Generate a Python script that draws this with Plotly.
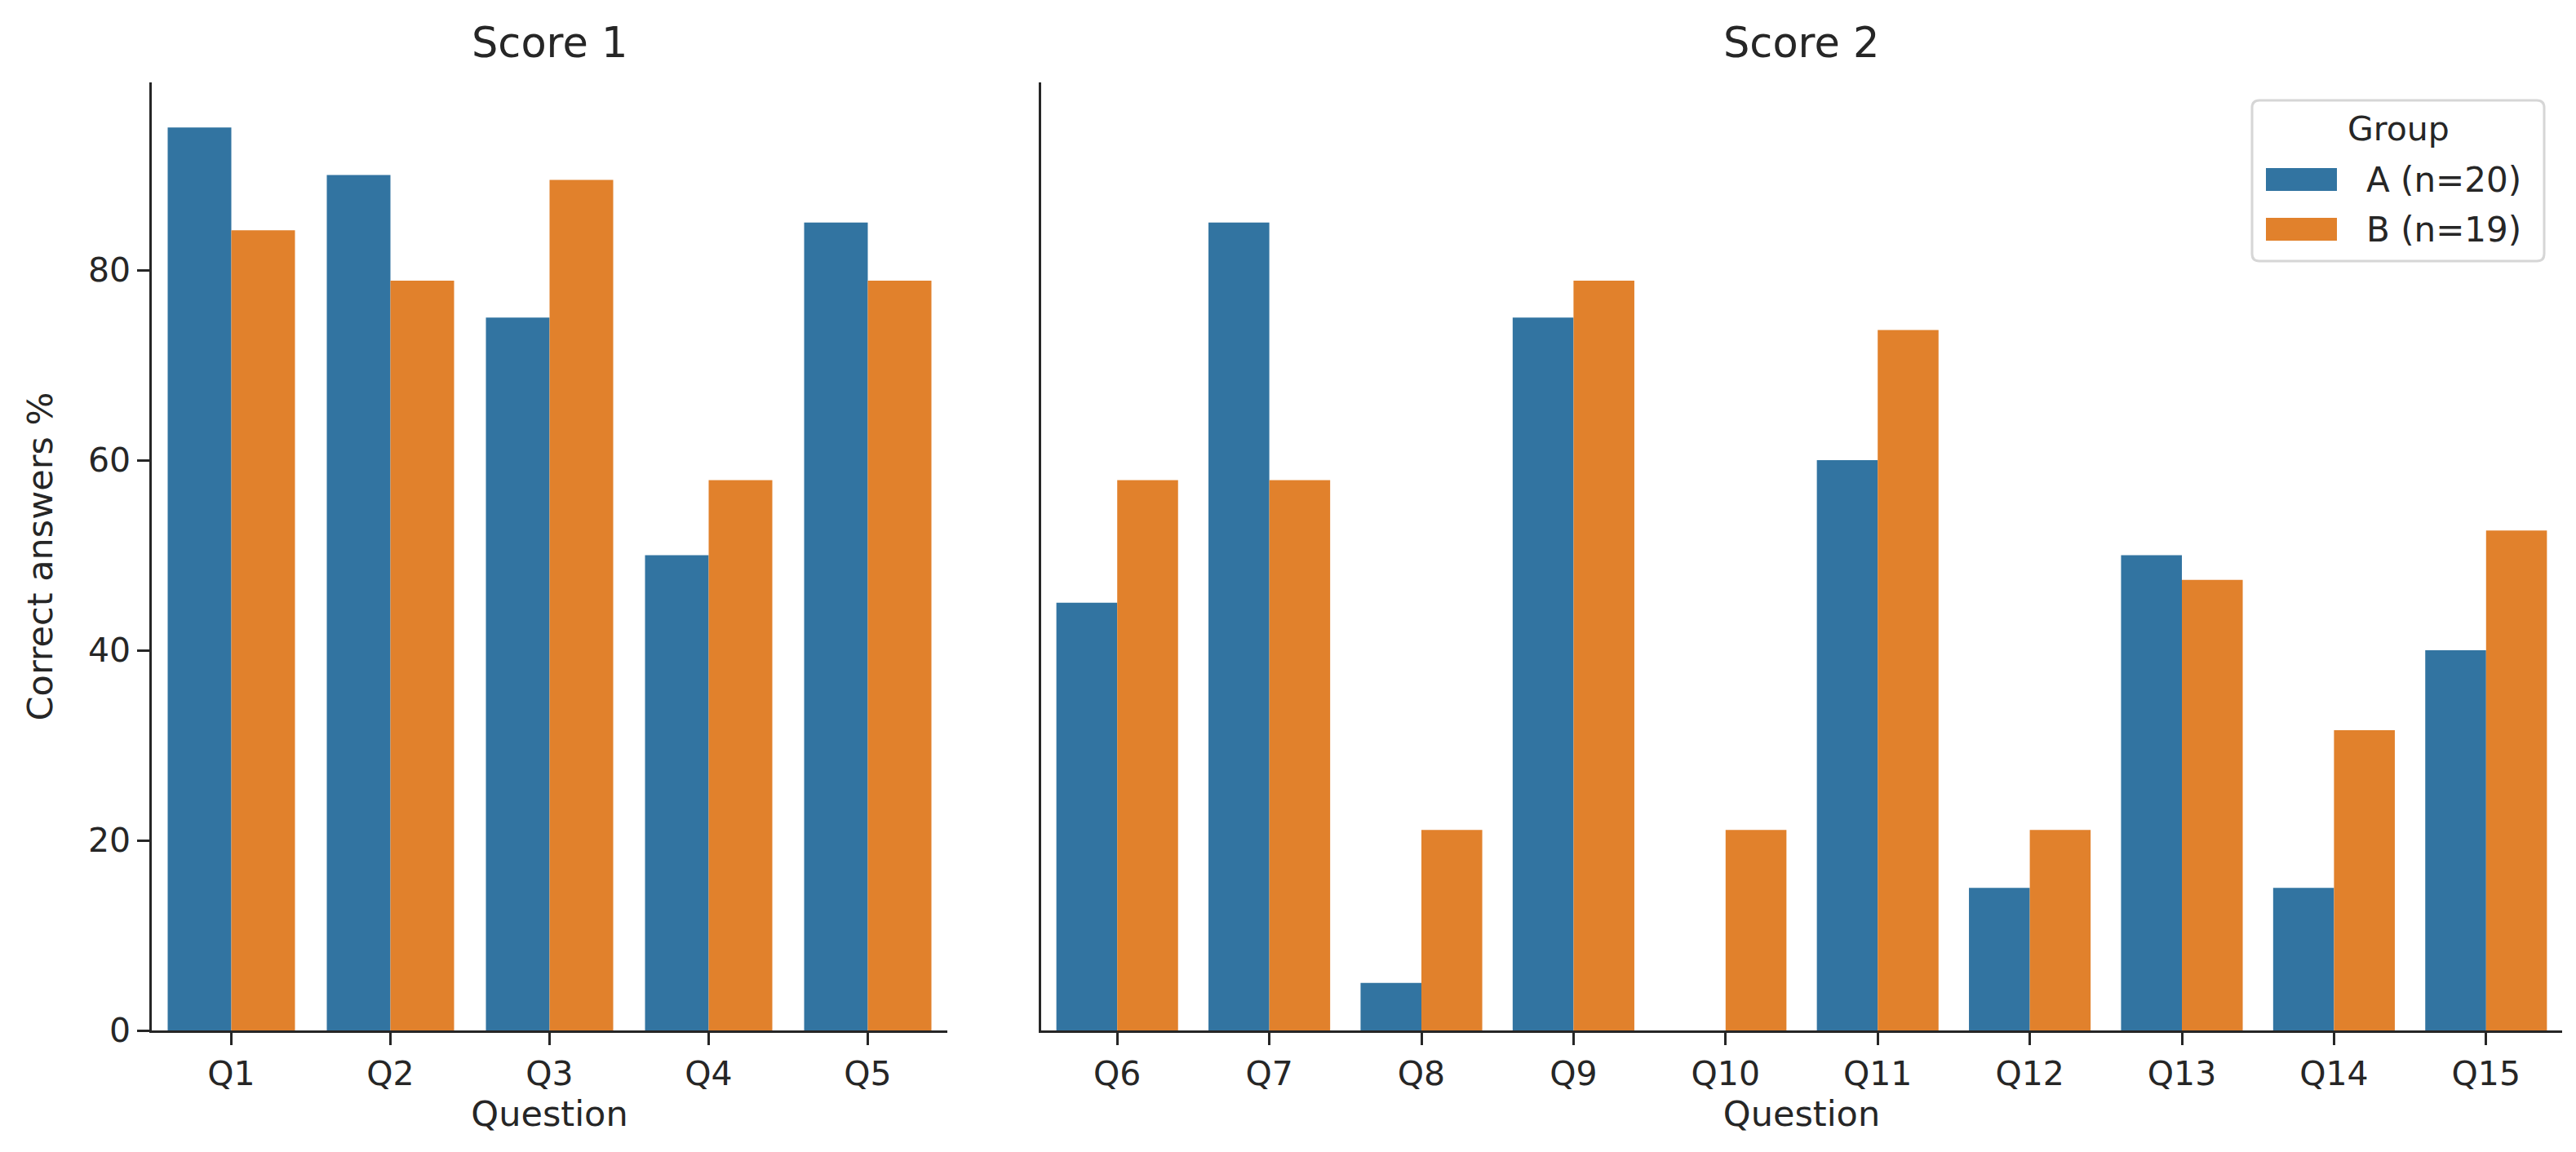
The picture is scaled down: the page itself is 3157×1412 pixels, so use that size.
import plotly.graph_objects as go

questions_1 = ["Q1", "Q2", "Q3", "Q4", "Q5"]
questions_2 = ["Q6", "Q7", "Q8", "Q9", "Q10", "Q11", "Q12", "Q13", "Q14", "Q15"]
group_a_1 = [95, 90, 75, 50, 85]
group_b_1 = [84.2, 78.9, 89.5, 57.9, 78.9]
group_a_2 = [45, 85, 5, 75, 0, 60, 15, 50, 15, 40]
group_b_2 = [57.9, 57.9, 21.1, 78.9, 21.1, 73.7, 21.1, 47.4, 31.6, 52.6]
group_names = ["A (n=20)", "B (n=19)"]
legend_title = "Group"
colors = ["#3274A1", "#E1812C"]
y_ticks = [0, 20, 40, 60, 80]

W, H = 3157, 1412
L, R, T, B = 178, 3157 - 3132, 93, 1412 - 1255
pw = W - L - R
ph = H - T - B
BOTTOM = H - B

FONT = "DejaVu Sans"
TXT = "#262626"


def px(x):
    return (x - L) / pw


def py(y):
    return (BOTTOM - y) / ph


fig = go.Figure()
fig.add_trace(go.Bar(x=questions_1, y=group_a_1, name=group_names[0], marker_color=colors[0],
                     marker_line_width=0, showlegend=False, xaxis="x", yaxis="y"))
fig.add_trace(go.Bar(x=questions_1, y=group_b_1, name=group_names[1], marker_color=colors[1],
                     marker_line_width=0, showlegend=False, xaxis="x", yaxis="y"))
fig.add_trace(go.Bar(x=questions_2, y=group_a_2, name=group_names[0], marker_color=colors[0],
                     marker_line_width=0, showlegend=False, xaxis="x2", yaxis="y2"))
fig.add_trace(go.Bar(x=questions_2, y=group_b_2, name=group_names[1], marker_color=colors[1],
                     marker_line_width=0, showlegend=False, xaxis="x2", yaxis="y2"))

d1 = [0, px(1153)]
d2 = [px(1268), 1]

axis_common = dict(showline=True, linecolor=TXT, linewidth=2.5, ticks="outside",
                   ticklen=15, tickwidth=2.5, tickcolor=TXT, showgrid=False, zeroline=False,
                   tickfont=dict(size=41, color=TXT, family=FONT),
                   title_font=dict(size=43, color=TXT, family=FONT))

# custom legend (box, title, swatches, labels)
bx0, bx1, by0, by1, rad = 2752, 3110, 115, 312, 9
path = (f"M {px(bx0 + rad)},{py(by0)} L {px(bx1 - rad)},{py(by0)} "
        f"Q {px(bx1)},{py(by0)} {px(bx1)},{py(by0 + rad)} "
        f"L {px(bx1)},{py(by1 - rad)} Q {px(bx1)},{py(by1)} {px(bx1 - rad)},{py(by1)} "
        f"L {px(bx0 + rad)},{py(by1)} Q {px(bx0)},{py(by1)} {px(bx0)},{py(by1 - rad)} "
        f"L {px(bx0)},{py(by0 + rad)} Q {px(bx0)},{py(by0)} {px(bx0 + rad)},{py(by0)} Z")
shapes = [dict(type="path", xref="paper", yref="paper", path=path,
               line=dict(color="#D6D6D6", width=3), fillcolor="rgba(255,255,255,0.8)", layer="above")]
annotations = [
    dict(text=legend_title, x=px((bx0 + bx1) / 2), y=py(150), xref="paper", yref="paper",
         showarrow=False, xanchor="center", yanchor="middle", font=dict(size=41, family=FONT, color=TXT)),
]
for i, (name, col) in enumerate(zip(group_names, colors)):
    cy = 212 + i * 61
    shapes.append(dict(type="rect", xref="paper", yref="paper", x0=px(2769), x1=px(2856),
                       y0=py(cy - 14), y1=py(cy + 14), fillcolor=col, line_width=0, layer="above"))
    annotations.append(dict(text=name, x=px(2890), y=py(cy), xref="paper", yref="paper",
                            showarrow=False, xanchor="left", yanchor="middle",
                            font=dict(size=42, family=FONT, color=TXT)))

for d, label in ((d1, "Score 1"), (d2, "Score 2")):
    annotations.append(dict(text=label, x=(d[0] + d[1]) / 2, y=1 + (T - 45) / ph, xref="paper",
                            yref="paper", showarrow=False, xanchor="center", yanchor="middle",
                            font=dict(size=51, family=FONT, color=TXT)))

fig.update_layout(
    width=W, height=H,
    margin=dict(l=L, r=R, t=T, b=B),
    paper_bgcolor="white", plot_bgcolor="white",
    font=dict(family=FONT, color=TXT),
    barmode="group", bargap=0.2, bargroupgap=0,
    showlegend=False,
    xaxis=dict(domain=d1, anchor="y", type="category", range=[-0.5, 4.5],
               title=dict(text="Question", standoff=5), **axis_common),
    xaxis2=dict(domain=d2, anchor="y2", type="category", range=[-0.5, 9.5],
                title=dict(text="Question", standoff=5), **axis_common),
    yaxis=dict(domain=[0, 1], anchor="x", range=[0, 99.75], tickvals=y_ticks,
               title=dict(text="Correct answers %", standoff=30), **axis_common),
    yaxis2=dict(domain=[0, 1], anchor="x2", range=[0, 99.75], showline=True,
                linecolor=TXT, linewidth=2.5, ticks="", showticklabels=False,
                showgrid=False, zeroline=False),
    shapes=shapes,
    annotations=annotations,
)

fig.write_html("out.html")
